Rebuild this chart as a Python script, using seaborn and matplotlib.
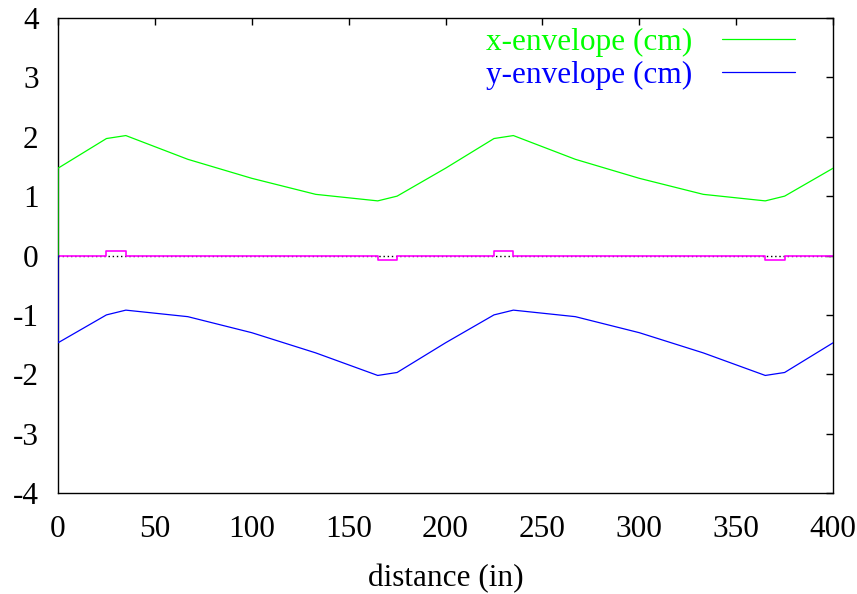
import pandas as pd
import matplotlib
matplotlib.use('Agg')
import matplotlib.pyplot as plt
import seaborn as sns

# envelope values
dist = [0, 0, 25, 35, 67, 100, 133, 165, 175, 200, 225, 235, 267, 300, 333, 365, 375, 400]
x_env = [0, 1.47, 1.97, 2.02, 1.62, 1.30, 1.03, 0.92, 1.00, 1.47, 1.97, 2.02, 1.62, 1.30, 1.03, 0.92, 1.00, 1.47]
y_env = [0, -1.47, -1.00, -0.92, -1.03, -1.30, -1.64, -2.02, -1.97, -1.47, -1.00, -0.92, -1.03, -1.30, -1.64, -2.02, -1.97, -1.47]

# magnet layout (boxes along the axis)
mag_x = [0, 25, 25, 35, 35, 165, 165, 175, 175, 225, 225, 235, 235, 365, 365, 375, 375, 400]
mag_y = [0, 0, 0.08, 0.08, 0, 0, -0.08, -0.08, 0, 0, 0.08, 0.08, 0, 0, -0.08, -0.08, 0, 0]

df = pd.DataFrame({'distance': dist, 'x': x_env, 'y': y_env})
mag = pd.DataFrame({'distance': mag_x, 'h': mag_y})

sns.set_style('white')
plt.rcParams['font.family'] = ['Liberation Serif', 'DejaVu Serif']
plt.rcParams['axes.unicode_minus'] = False

fs = 22.5

fig = plt.figure(figsize=(8.57, 5.94), dpi=100)
ax = fig.add_axes([0.0677, 0.17, 0.9044, 0.7997])

ax.axhline(0, color='black', lw=1, ls=(0, (1, 2)), zorder=1)
sns.lineplot(data=df, x='distance', y='x', sort=False, estimator=None, color='#00ff00', lw=0.9,
             label='x-envelope (cm)', ax=ax, zorder=3)
sns.lineplot(data=df, x='distance', y='y', sort=False, estimator=None, color='#0000ff', lw=0.9,
             label='y-envelope (cm)', ax=ax, zorder=3)
sns.lineplot(data=mag, x='distance', y='h', sort=False, estimator=None, color='#ff00ff', lw=1.2,
             ax=ax, zorder=2, legend=False)

ax.set_xlim(0, 400)
ax.set_ylim(-4, 4)
ax.set_xticks(range(0, 401, 50))
ax.set_yticks(range(-4, 5))
ax.tick_params(direction='in', top=True, right=True, length=5, width=1,
               labelsize=fs, colors='black')
ax.tick_params(axis='y', pad=14)
ax.tick_params(axis='x', pad=16)
for s in ax.spines.values():
    s.set_color('black')
    s.set_linewidth(1)
ax.set_xlabel('distance (in)', fontsize=fs, labelpad=14, color='black')
ax.set_ylabel('')

ax.legend(loc='upper right', bbox_to_anchor=(0.951, 0.98), frameon=False,
          markerfirst=False, labelcolor='linecolor', fontsize=fs,
          handlelength=2.35, handletextpad=0.95, labelspacing=0.13,
          borderpad=0, borderaxespad=0)

fig.savefig('out.png', dpi=100)
